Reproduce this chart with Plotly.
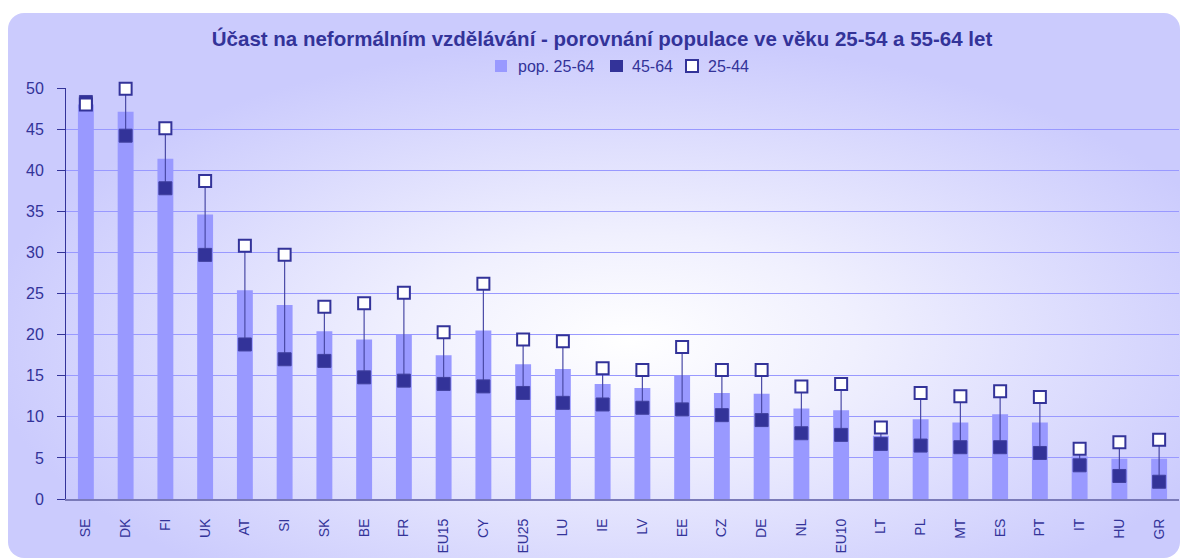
import base64
import plotly.graph_objects as go

countries = ["SE", "DK", "FI", "UK", "AT", "SI", "SK", "BE", "FR", "EU15", "CY", "EU25", "LU", "IE",
             "LV", "EE", "CZ", "DE", "NL", "EU10", "LT", "PL", "MT", "ES", "PT", "IT", "HU", "GR"]
pop_25_64 = [48.0, 47.1, 41.4, 34.6, 25.4, 23.6, 20.4, 19.4, 20.0, 17.5, 20.5, 16.4, 15.8, 14.0,
             13.5, 15.0, 12.9, 12.8, 11.0, 10.8, 7.7, 9.7, 9.3, 10.3, 9.3, 5.2, 4.9, 4.9]
age_45_64 = [48.3, 44.2, 37.8, 29.7, 18.8, 17.0, 16.8, 14.8, 14.4, 14.0, 13.7, 12.9, 11.7, 11.5,
             11.1, 10.9, 10.2, 9.6, 8.0, 7.8, 6.7, 6.5, 6.3, 6.3, 5.6, 4.1, 2.8, 2.1]
age_25_44 = [48.0, 49.9, 45.1, 38.7, 30.8, 29.7, 23.4, 23.8, 25.1, 20.3, 26.2, 19.4, 19.2, 15.9,
             15.7, 18.5, 15.7, 15.7, 13.7, 14.0, 8.7, 12.9, 12.5, 13.1, 12.4, 6.1, 6.9, 7.2]
y_ticks = [0, 5, 10, 15, 20, 25, 30, 35, 40, 45, 50]
legend_names = ["pop. 25-64", "45-64", "25-44"]

TITLE = "Účast na neformálním vzdělávání - porovnání populace ve věku 25-54 a 55-64 let"
NAVY = "#333399"
BAR = "#9999ff"
FONT = "Liberation Sans, Arial, sans-serif"

W, H = 1182, 559
ML, MR, MT, MB = 66, 3, 88, 60
plot_w = W - ML - MR
plot_h = H - MT - MB


def pxx(v):
    return (v - ML) / plot_w


def pxy(v):
    return (H - MB - v) / plot_h


# whisker segments from 45-64 to 25-44
wx, wy = [], []
for c, lo, hi in zip(countries, age_45_64, age_25_44):
    wx += [c, c, None]
    wy += [lo, hi, None]

fig = go.Figure()
fig.add_bar(x=countries, y=pop_25_64, name=legend_names[0], width=0.4, showlegend=False,
            marker=dict(color=BAR, line=dict(width=0)))
fig.add_scatter(x=wx, y=wy, mode="lines", line=dict(color="#4a4aa6", width=1.2),
                showlegend=False, hoverinfo="skip", cliponaxis=False)
fig.add_scatter(x=countries, y=age_45_64, mode="markers", name=legend_names[1], cliponaxis=False,
                showlegend=False,
                marker=dict(symbol="square", size=13, color=NAVY, line=dict(color="#40409f", width=1)))
fig.add_scatter(x=countries, y=age_25_44, mode="markers", name=legend_names[2], cliponaxis=False,
                showlegend=False,
                marker=dict(symbol="square", size=12, color="white", line=dict(color=NAVY, width=2)))

# background panel: rounded rectangle with radial gradient
pw, ph = 1174, 546
svg = f'''<svg xmlns="http://www.w3.org/2000/svg" width="{pw}" height="{ph}" viewBox="0 0 {pw} {ph}">
<defs><radialGradient id="g" cx="0.53" cy="0.6" r="0.55">
<stop offset="0" stop-color="#ffffff"/><stop offset="0.35" stop-color="#f0f0fe"/>
<stop offset="1" stop-color="#cbcbfd"/></radialGradient></defs>
<rect x="0" y="0" width="{pw - 2}" height="{ph - 1}" rx="16" ry="16" fill="url(#g)"/></svg>'''
src = "data:image/svg+xml;base64," + base64.b64encode(svg.encode("utf-8")).decode("ascii")

# custom legend (swatch boxes + labels)
legend_boxes = [(495, 507, BAR, BAR, 0), (610, 623, NAVY, NAVY, 0), (686, 698, "white", NAVY, 2)]
legend_text_x = [516, 630, 706]
shapes = []
annotations = []
for (x0, x1, fc, lc, lw), tx, name in zip(legend_boxes, legend_text_x, legend_names):
    shapes.append(dict(type="rect", xref="paper", yref="paper", x0=pxx(x0), x1=pxx(x1),
                       y0=pxy(72), y1=pxy(60), fillcolor=fc, line=dict(color=lc, width=lw),
                       layer="above"))
    annotations.append(dict(text=name, xref="paper", yref="paper", x=pxx(tx), y=pxy(66),
                            xanchor="left", yanchor="middle", showarrow=False,
                            font=dict(size=16, color=NAVY, family=FONT)))

fig.update_layout(
    width=W, height=H, autosize=False,
    margin=dict(l=ML, r=MR, t=MT, b=MB, pad=0),
    paper_bgcolor="white", plot_bgcolor="rgba(0,0,0,0)",
    font=dict(family=FONT, color=NAVY),
    title=dict(text="<b>" + TITLE + "</b>", x=602 / W, y=1 - 39 / H, xanchor="center", yanchor="middle",
               xref="container", yref="container", font=dict(size=20.5, color=NAVY, family=FONT)),
    showlegend=False,
    shapes=shapes,
    annotations=annotations,
    images=[dict(source=src, xref="paper", yref="paper", x=pxx(8), y=pxy(13),
                 sizex=pw / plot_w, sizey=ph / plot_h, xanchor="left", yanchor="top",
                 sizing="stretch", layer="below")],
)
fig.update_yaxes(range=[0, 50], tickvals=y_ticks, showgrid=True, gridcolor=BAR, gridwidth=1,
                 zeroline=False, showline=True, linecolor=NAVY, linewidth=1, ticks="outside",
                 ticklen=8, tickcolor=NAVY, tickfont=dict(size=16, color=NAVY), ticklabelstandoff=10)
fig.update_xaxes(showgrid=False, showline=True, linecolor="#7a7ab8", linewidth=2, ticks="",
                 tickangle=-90, tickfont=dict(size=14, color=NAVY), ticklabelstandoff=12,
                 range=[-0.5, len(countries) - 0.5])

fig.write_html("out.html", config={"displayModeBar": False},
               post_script="document.body.style.margin='0';document.body.style.overflow='hidden';")
